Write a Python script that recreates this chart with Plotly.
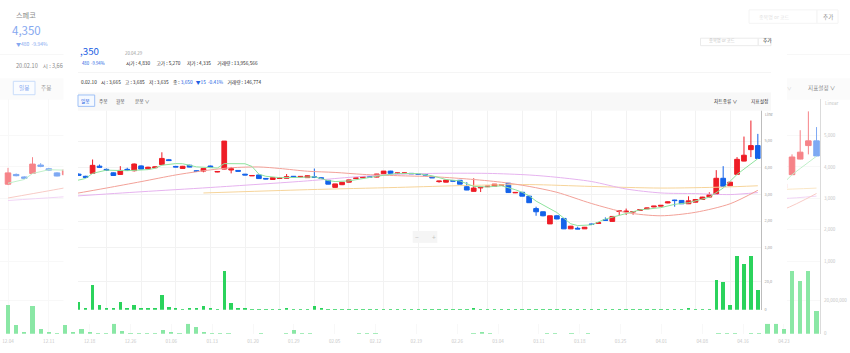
import plotly.graph_objects as go

W, H = 850, 353

# ------------------------------------------------------------------ data
month_days = [
    ("12", [4, 5, 6, 9, 10, 11, 12, 13, 16, 17, 18, 19, 20, 23, 24, 26, 27, 30]),
    ("01", [2, 3, 6, 7, 8, 9, 10, 13, 14, 15, 16, 17, 20, 21, 22, 23, 28, 29, 30, 31]),
    ("02", [3, 4, 5, 6, 7, 10, 11, 12, 13, 14, 17, 18, 19, 20, 21, 24, 25, 26, 27, 28]),
    ("03", [2, 3, 4, 5, 6, 9, 10, 11, 12, 13, 16, 17, 18, 19, 20, 23, 24, 25, 26, 27, 30, 31]),
    ("04", [1, 2, 3, 6, 7, 8, 9, 10, 13, 14, 16, 17, 20, 21, 22, 23, 24, 27, 28, 29]),
]
dates = [f"{m}.{d:02d}" for m, days in month_days for d in days]

tick_dates = ["12.04", "12.11", "12.18", "12.26", "01.06", "01.13", "01.20", "01.29",
              "02.05", "02.12", "02.19", "02.26", "03.04", "03.11", "03.18", "03.25",
              "04.01", "04.08", "04.16", "04.23"]

opens = [
    3450, 3760, 3680, 3790, 4060, 3940, 3810, 3750, 3940, 3890,
    4070, 3960, 4000, 4120, 4300, 4050, 3975, 4095, 3890, 3875,
    4065, 3840, 3950, 3915, 3900, 3760, 3695, 3730, 3600, 3560,
    3600, 3606, 3680, 3655, 3630, 3660, 3625, 3530, 3265, 3365,
    3460, 3600, 3625, 3665, 3650, 3775, 3875, 3790, 3795, 3790,
    3770, 3750, 3650, 3480, 3460, 3515, 3530, 3290, 3115, 3245,
    3290, 3310, 3350, 3420, 3060, 3080, 2935, 2470, 2350, 1895,
    2200, 2100, 1710, 1730, 1710, 1890, 1915, 2050, 1990, 2360,
    2355, 2340, 2400, 2460, 2530, 2560, 2680, 2790, 2775, 2650,
    2710, 2810, 2900, 3000, 3605, 3325, 3753, 4250, 4680, 4830,
]
highs = [
    3970, 3790, 3700, 4310, 4120, 3970, 3830, 4060, 4000, 4160,
    4090, 4040, 4050, 4580, 4330, 4070, 4070, 4110, 3900, 3990,
    4080, 3870, 5000, 4030, 3910, 3770, 3720, 3740, 3610, 3640,
    3625, 3765, 3690, 3685, 3710, 3970, 3640, 3540, 3400, 3460,
    3550, 3630, 3670, 3685, 3770, 3880, 3885, 3815, 3815, 3800,
    3780, 3760, 3660, 3510, 3545, 3525, 3540, 3460, 3605, 3270,
    3315, 3390, 3370, 3430, 3085, 3090, 2945, 2540, 2360, 2210,
    2210, 2110, 1820, 1790, 1780, 1900, 1945, 2140, 2180, 2390,
    2470, 2370, 2440, 2500, 2570, 2600, 2730, 2800, 2790, 2930,
    2820, 2910, 3080, 3910, 4060, 3470, 4400, 5170, 5770, 5270,
]
lows = [
    3420, 3700, 3620, 3780, 3990, 3880, 3700, 3740, 3900, 3860,
    3940, 3950, 3990, 4110, 4260, 4020, 3960, 4020, 3840, 3830,
    4010, 3830, 3940, 3790, 3860, 3720, 3690, 3590, 3570, 3550,
    3595, 3600, 3650, 3650, 3620, 3630, 3590, 3380, 3250, 3350,
    3450, 3590, 3620, 3635, 3640, 3770, 3785, 3780, 3785, 3770,
    3745, 3725, 3620, 3440, 3450, 3495, 3380, 3160, 3110, 3090,
    3280, 3300, 3340, 3060, 3050, 2930, 2680, 2200, 2180, 1890,
    2070, 1700, 1700, 1700, 1705, 1870, 1910, 2020, 1985, 2225,
    2230, 2240, 2390, 2450, 2520, 2550, 2670, 2540, 2640, 2640,
    2700, 2800, 2890, 2990, 3290, 3310, 3740, 4240, 4400, 4335,
]
closes = [
    3810, 3720, 3640, 4090, 4020, 3900, 3710, 3900, 3910, 4140,
    3950, 4020, 4030, 4350, 4270, 4030, 4055, 4025, 3860, 3975,
    4020, 3860, 5000, 3960, 3870, 3730, 3710, 3595, 3580, 3630,
    3615, 3665, 3655, 3675, 3700, 3640, 3600, 3385, 3395, 3455,
    3545, 3620, 3665, 3650, 3765, 3875, 3790, 3805, 3805, 3775,
    3750, 3730, 3625, 3500, 3540, 3500, 3385, 3165, 3240, 3265,
    3310, 3385, 3360, 3070, 3075, 2935, 2690, 2350, 2200, 2200,
    2080, 1710, 1810, 1705, 1770, 1875, 1940, 2030, 2175, 2385,
    2370, 2360, 2430, 2490, 2560, 2590, 2720, 2770, 2650, 2760,
    2810, 2900, 2990, 3605, 3300, 3460, 4316, 4470, 4830, 4350,
]
# traded volume, millions of shares
volumes_m = [
    17.2, 5.5, 1.3, 17.0, 3.2, 1.3, 0.6, 5.6, 1.3, 3.0,
    1.2, 0.5, 0.5, 10.0, 2.1, 0.7, 0.3, 0.5, 0.5, 2.4,
    1.2, 0.3, 27.0, 4.5, 1.0, 0.5, 0.1, 0.2, 0.05, 0.05,
    0.05, 0.7, 0.05, 0.05, 0.2, 2.4, 0.5, 0.25, 0.05, 0.05,
    0.05, 0.05, 0.05, 0.147, 0.2, 0.3, 0.05, 0.03, 0.03, 0.03,
    0.03, 0.03, 0.03, 0.03, 0.03, 0.03, 0.05, 0.1, 1.2, 0.2,
    0.05, 0.03, 0.03, 0.05, 0.03, 0.05, 0.1, 0.15, 0.05, 0.1,
    0.05, 0.15, 0.05, 0.05, 0.03, 0.03, 0.03, 0.03, 0.03, 0.05,
    0.03, 0.03, 0.03, 0.05, 0.03, 0.05, 0.05, 0.1, 0.15, 0.6,
    0.05, 0.2, 0.1, 21.0, 19.7, 2.9, 37.5, 31.8, 37.5, 13.96,
]
assert all(len(a) == len(dates) for a in (opens, highs, lows, closes, volumes_m))

# moving-average lines at these trading-day indices
ma5_idx = [0, 2, 3, 5, 8, 11, 12, 13, 15, 16, 18, 20, 21, 22, 25, 26, 27, 28, 30, 33,
           35, 37, 38, 40, 42, 44, 47, 50, 52, 54, 56, 58, 60, 62, 64, 65, 66, 67, 70, 72,
           73, 75, 77, 80, 82, 85, 87, 89, 92, 94, 96, 97, 99]
ma5_val = [3480, 3600, 3790, 3910, 3890, 3930, 3980, 4095, 4156, 4150, 4034, 4000, 3990, 4156,
           4150, 4050, 3760, 3680, 3630, 3640, 3660, 3520, 3483, 3507, 3600, 3680, 3789, 3780,
           3700, 3560, 3507, 3300, 3280, 3324, 3177, 3080, 2950, 2750, 2322, 1900, 1833, 1858,
           2078, 2285, 2420, 2505, 2628, 2689, 2897, 3239, 3750, 3950, 4340]
ma20_idx = [0, 5, 10, 15, 18, 20, 23, 27, 30, 34, 38, 42, 47, 52, 57, 62, 66, 70, 75, 80,
            85, 90, 95, 99]
ma20_val = [3010, 3240, 3480, 3730, 3851, 3920, 4000, 4030, 3973, 3870, 3825, 3752, 3703,
            3666, 3581, 3458, 3300, 3080, 2660, 2322, 2200, 2330, 2650, 3154]
ma60_idx = [0, 10, 20, 34, 40, 45, 52, 60, 66, 70, 75, 80, 85, 90, 95, 99]
ma60_val = [2930, 3100, 3260, 3508, 3640, 3727, 3789, 3789, 3729, 3643, 3484, 3203, 3056,
            3031, 2995, 3070]
ma120_idx = [19, 34, 47, 57, 66, 75, 85, 94, 99]
ma120_val = [3055, 3178, 3263, 3336, 3370, 3300, 3239, 3276, 3325]

price_ticks = [1000, 2000, 3000, 4000, 5000]
price_tick_text = ["1,000", "2,000", "3,000", "4,000", "5,000"]
vol_ticks = [0, 20]
vol_tick_text = ["0", "20,000,000"]

# ------------------------------------------------------------------ look
FONT = "Noto Sans CJK KR, Noto Sans, sans-serif"
C_UP, C_DOWN, C_VOL = "#ee1d26", "#1463ea", "#2bd35c"
MA_STYLE = [("ma120", ma120_idx, ma120_val, "#f6d49a", "spline"),
            ("ma60", ma60_idx, ma60_val, "#e6b3ef", "spline"),
            ("ma20", ma20_idx, ma20_val, "#f2a198", "spline"),
            ("ma5", ma5_idx, ma5_val, "#8fe39e", "linear")]
C_TEXT, C_SUB, C_BLUE = "#2b2b2b", "#9a9a9a", "#2160e3"
C_GRID, C_AXIS, C_BAND, C_LINE = "#f2f2f2", "#bdbdbd", "#f8f8f8", "#ececec"


def fade(c, a):
    h = c.lstrip("#")
    rgb = [int(h[i:i + 2], 16) for i in (0, 2, 4)]
    return "#" + "".join(f"{round(255 - a * (255 - v)):02x}" for v in rgb)


# page geometry, in pixels of the (full-size) background page
X_FIRST, X_STEP = 8.0, 8.167
PLOT_R = 820.0
PRICE_TOP, PANEL_SPLIT, VOL_BASE = 100.0, 266.0, 336.7
P_REF, P_REF_Y, PX_PER_WON = 5000.0, 136.7, 0.03165
PX_PER_MSHARE = 1.685

COVER = (63.5, 27.0, 787.0, 326.7)   # screen box hidden by the inset screenshot
CLIP = (78.0, 38.5, 771.0, 314.0)    # visible part of the inset

VIEWS = {
    "bg": dict(kx=1.0, ox=0.0, ky=1.0, oy=0.0, alpha=0.55, fs=1.0, axes=(1, 2)),
    "fg": dict(kx=0.8485, ox=65.0, ky=0.85, oy=26.1, alpha=1.0, fs=0.85, axes=(4, 5)),
}


def sx(v, x):
    return v["ox"] + v["kx"] * x


def sy(v, y):
    return v["oy"] + v["ky"] * y


def pxf(x):
    return x / W


def pyf(y):
    return 1 - y / H


def akey(kind, n):
    return f"{kind}axis" if n == 1 else f"{kind}axis{n}"


def aref(kind, n):
    return kind if n == 1 else f"{kind}{n}"


fig = go.Figure()
layout = {}
shapes = []
annotations = []

for name, v in VIEWS.items():
    a = v["alpha"]
    n_p, n_v = v["axes"]
    left = CLIP[0] if name == "fg" else 0.0
    right = sx(v, PLOT_R)
    page_left = (left - v["ox"]) / v["kx"]
    x_range = [(page_left - X_FIRST) / X_STEP, (PLOT_R - X_FIRST) / X_STEP]
    x_dom = [pxf(left), pxf(right)]
    p_dom = [pyf(sy(v, PANEL_SPLIT)), pyf(sy(v, PRICE_TOP))]
    v_dom = [pyf(sy(v, VOL_BASE)), pyf(sy(v, PANEL_SPLIT))]
    p_range = [P_REF - (PANEL_SPLIT - P_REF_Y) / PX_PER_WON,
               P_REF + (P_REF_Y - PRICE_TOP) / PX_PER_WON]
    v_range = [0, (VOL_BASE - PANEL_SPLIT) / PX_PER_MSHARE]
    fs = 4.6 * v["fs"]
    tick_font = dict(size=fs, color=fade(C_SUB, a), family=FONT)

    def cut(t):
        return t if name == "bg" else t[:4]

    common_x = dict(type="category", categoryorder="array", categoryarray=dates,
                    range=x_range, domain=x_dom, tickmode="array", tickvals=tick_dates,
                    ticktext=tick_dates, showgrid=True, gridcolor=fade(C_GRID, a),
                    gridwidth=1, zeroline=False, showline=False, ticks="", fixedrange=True)
    layout[akey("x", n_p)] = dict(common_x, anchor=aref("y", n_p), showticklabels=False,
                                  rangeslider=dict(visible=False))
    layout[akey("x", n_v)] = dict(common_x, anchor=aref("y", n_v),
                                  showticklabels=(name == "bg"), tickfont=tick_font,
                                  ticklabelstandoff=4)
    common_y = dict(side="right", tickmode="array", showgrid=True,
                    gridcolor=fade(C_GRID, a), showline=True, linecolor=fade(C_AXIS, a),
                    linewidth=1, ticks="", tickfont=tick_font, zeroline=False,
                    fixedrange=True, ticklabelstandoff=2)
    layout[akey("y", n_p)] = dict(common_y, domain=p_dom, range=p_range,
                                  anchor=aref("x", n_p), tickvals=price_ticks,
                                  ticktext=[cut(t) for t in price_tick_text])
    layout[akey("y", n_v)] = dict(common_y, domain=v_dom, range=v_range,
                                  anchor=aref("x", n_v), tickvals=vol_ticks,
                                  ticktext=[cut(t) for t in vol_tick_text])

    fig.add_trace(go.Bar(x=dates, y=volumes_m, width=0.5,
                         marker=dict(color=fade(C_VOL, a), line=dict(width=0)),
                         xaxis=aref("x", n_v), yaxis=aref("y", n_v),
                         hoverinfo="skip", showlegend=False))
    fig.add_trace(go.Candlestick(
        x=dates, open=opens, high=highs, low=lows, close=closes, whiskerwidth=0,
        increasing=dict(line=dict(color=fade(C_UP, a), width=1), fillcolor=fade(C_UP, a)),
        decreasing=dict(line=dict(color=fade(C_DOWN, a), width=1), fillcolor=fade(C_DOWN, a)),
        xaxis=aref("x", n_p), yaxis=aref("y", n_p), hoverinfo="skip", showlegend=False))
    for ma_name, idx, val, color, shape in MA_STYLE:
        fig.add_trace(go.Scatter(
            x=[dates[i] for i in idx], y=val, mode="lines", name=ma_name,
            line=dict(color=fade(color, a), width=1, shape=shape, smoothing=0.8),
            xaxis=aref("x", n_p), yaxis=aref("y", n_p), hoverinfo="skip", showlegend=False))

    if name == "bg":
        # empty subplot standing for the inset screenshot: its white plot area
        # hides the page drawn behind it
        fig.add_trace(go.Scatter(x=[None], y=[None], mode="markers",
                                 marker=dict(opacity=0), xaxis="x3", yaxis="y3",
                                 hoverinfo="skip", showlegend=False))

layout["xaxis3"] = dict(domain=[pxf(COVER[0]), pxf(COVER[2])], visible=False,
                        anchor="y3", range=[0, 1], fixedrange=True)
layout["yaxis3"] = dict(domain=[pyf(COVER[3]), pyf(COVER[1])], visible=False,
                        anchor="x3", range=[0, 1], fixedrange=True)


def add_rect(name, x0, y0, x1, y1, fill=None, line=None):
    v = VIEWS[name]
    X0, X1, Y0, Y1 = sx(v, x0), sx(v, x1), sy(v, y0), sy(v, y1)
    if name == "fg":
        X0, X1 = max(X0, CLIP[0]), min(X1, CLIP[2])
        Y0, Y1 = max(Y0, CLIP[1]), min(Y1, CLIP[3])
        if X1 <= X0 or Y1 <= Y0:
            return
    a = v["alpha"]
    shapes.append(dict(type="rect", xref="paper", yref="paper",
                       x0=pxf(X0), x1=pxf(X1), y0=pyf(Y1), y1=pyf(Y0),
                       fillcolor=fade(fill, a) if fill else "rgba(0,0,0,0)",
                       line=dict(color=fade(line, a) if line else "rgba(0,0,0,0)",
                                 width=1 if line else 0),
                       layer="below" if name == "bg" else "above"))


for name in VIEWS:
    add_rect(name, 0, 79, 850, 100.7, fill=C_BAND)
    add_rect(name, 0, 54.6, 850, 55.4, fill=C_LINE)
    add_rect(name, 13.3, 82, 35, 95.5, fill="#f5f9ff", line="#9fc1f6")
    add_rect(name, 749, 10, 817, 23.5, fill="#ffffff", line="#ebebeb")
    add_rect(name, 817, 10, 838, 23.5, fill="#ffffff", line="#ebebeb")
add_rect("fg", 409.8, 243.4, 438.8, 257.5, fill="#f5f5f5")

info_fg = ('0.02.10    시 : 3,665    고 : 3,685    저 : 3,635    종 : '
           f'<span style="color:{C_BLUE}">3,650   ▼15  -0.41%</span>    거래량 : 146,774')
notes = [
    ("스페코", 14, 15.5, 7.2, C_TEXT, "left", "bg"),
    ("4,350", 42.5, 30, 11.5, C_BLUE, "right", "bg"),
    (",350", 42.5, 30, 11.5, C_BLUE, "right", "fg"),
    ("▼480  -9.94%", 49.5, 44.3, 5.0, C_BLUE, "right", "bg"),
    ("480  -9.94%", 49.5, 44.3, 5.0, C_BLUE, "right", "fg"),
    ("20.04.29", 68, 32, 5.2, C_SUB, "left", "fg"),
    ("시가 : 4,830      고가 : 5,270      저가 : 4,335      거래량 : 13,956,566",
     69, 44.6, 5.6, C_TEXT, "left", "fg"),
    ("20.02.10    시 : 3,66", 14, 66.6, 5.6, C_TEXT, "left", "bg"),
    (info_fg, 17, 66.6, 5.6, C_TEXT, "left", "fg"),
    ("일봉", 24.2, 88.8, 5.6, C_BLUE, "center", "both"),
    ("주봉", 45.5, 88.8, 5.6, "#555555", "center", "both"),
    ("월봉", 65.5, 88.8, 5.6, "#555555", "center", "fg"),
    ("분봉 ∨", 80, 88.8, 5.6, "#555555", "left", "fg"),
    ("종목명 or 코드", 757, 16.8, 5.0, "#c4c4c4", "left", "both"),
    ("추가", 827.5, 16.8, 5.6, C_TEXT, "center", "both"),
    ("∨", 789, 88.8, 4.6, C_SUB, "center", "bg"),
    ("차트종류 ∨", 762, 88.8, 5.6, C_TEXT, "left", "fg"),
    ("지표설정 ∨", 806, 88.8, 5.6, C_TEXT, "left", "bg"),
    ("지표설정", 806, 88.8, 5.6, C_TEXT, "left", "fg"),
    ("Linear", 822.5, 104, 4.6, C_SUB, "left", "bg"),
    ("Line", 822.5, 104, 4.6, C_SUB, "left", "fg"),
    ("−", 414.8, 250.8, 8, "#c4c4c4", "center", "fg"),
    ("+", 434.3, 250.8, 8, "#c4c4c4", "center", "fg"),
]
for text, x, y, size, color, anchor, which in notes:
    for name in (["bg", "fg"] if which == "both" else [which]):
        v = VIEWS[name]
        a = v["alpha"]
        t = text.replace(C_BLUE, fade(C_BLUE, a))
        annotations.append(dict(
            text=t, x=pxf(sx(v, x)), y=pyf(sy(v, y)), xref="paper", yref="paper",
            xanchor=anchor, yanchor="middle", showarrow=False,
            font=dict(size=size * v["fs"], color=fade(color, a), family=FONT)))

fig.update_layout(
    width=W, height=H, margin=dict(l=0, r=0, t=0, b=0),
    paper_bgcolor="#ffffff", plot_bgcolor="#ffffff",
    font=dict(family=FONT), showlegend=False, bargap=0,
    boxgap=0.2, boxgroupgap=0.15, shapes=shapes, annotations=annotations,
    **layout)

fig.write_html("out.html")
